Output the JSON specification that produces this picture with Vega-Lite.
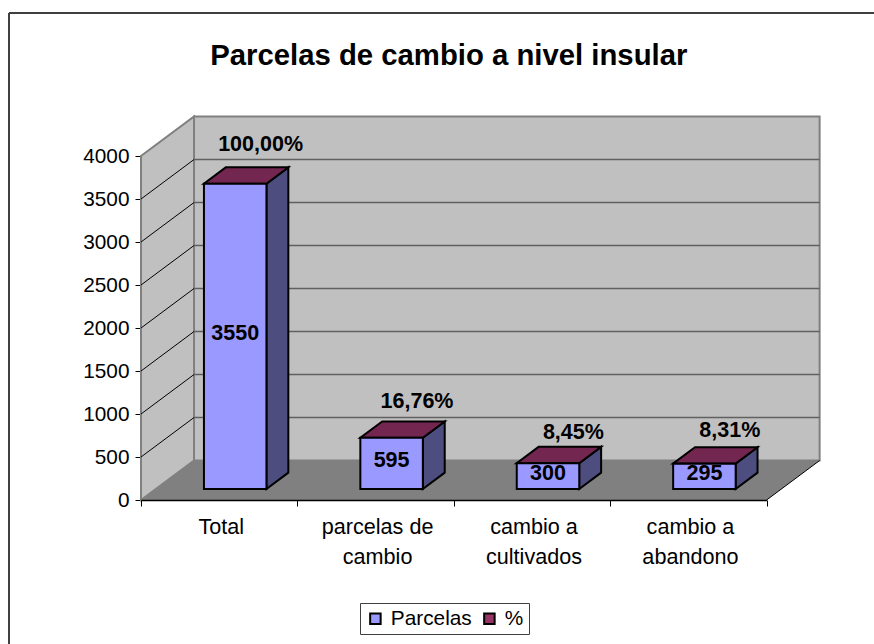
{
"$schema":"https://vega.github.io/schema/vega-lite/v6.json",
"width":625.6,"height":344,
"autosize":{"type":"none"},
"padding":{"left":141,"top":156,"right":107.4,"bottom":144},
"background":"white",
"config":{"view":{"stroke":null},"font":"Liberation Sans",
"axisY":{"grid":false,"domainColor":"black","domainWidth":1.5,"tickColor":"black","tickSize":6,"labelFont":"Liberation Sans","labelFontSize":20.8,"labelColor":"black","labelPadding":6,"zindex":1,"format":"d"}},
"title":{"text":"Parcelas de cambio a nivel insular","font":"Liberation Sans","fontSize":29.3,"fontWeight":"bold","color":"black","anchor":"middle","dx":-5,"offset":-59},
"datasets":{
"barras":[
{"categoria":"Total","orden":0,"Parcelas":3550,"pct":100.00},
{"categoria":"parcelas de cambio","orden":1,"Parcelas":595,"pct":16.76},
{"categoria":"cambio a cultivados","orden":2,"Parcelas":300,"pct":8.45},
{"categoria":"cambio a abandono","orden":3,"Parcelas":295,"pct":8.31}],
"prof":[{"depth":0},{"depth":1}],
"uno":[{"k":1}],
"marcas":[{"v":500},{"v":1000},{"v":1500},{"v":2000},{"v":2500},{"v":3000},{"v":3500}]
},
"resolve":{"scale":{"x":"independent"},"axis":{"x":"independent"}},
"layer":[
{"layer":[
{"data":{"name":"uno"},"mark":{"type":"rect","fill":"#C0C0C0","stroke":"#808080","strokeWidth":2},
"encoding":{"x":{"datum":0.339,"type":"quantitative","scale":{"domain":[0,4],"nice":false,"zero":false},"axis":null},"x2":{"datum":4.339},
"y":{"datum":459,"type":"quantitative","scale":{"domain":[0,4000],"nice":false},"axis":{"title":null,"format":"d"}},"y2":{"datum":4459}}},
{"data":{"name":"prof"},"transform":[{"calculate":"datum.depth*0.339","as":"x"},{"calculate":"datum.depth*459","as":"y"},{"calculate":"4000+datum.depth*459","as":"y2"}],
"mark":{"type":"area","fill":"#C0C0C0","stroke":"#808080","strokeWidth":2},
"encoding":{"x":{"field":"x","type":"quantitative","scale":{"domain":[0,4],"nice":false,"zero":false},"axis":null},"y":{"field":"y","type":"quantitative","scale":{"domain":[0,4000],"nice":false},"axis":{"title":null}},"y2":{"field":"y2"}}},
{"data":{"name":"prof"},"transform":[{"calculate":"datum.depth*0.339","as":"x"},{"calculate":"4+datum.depth*0.339","as":"x2"},{"calculate":"datum.depth*459","as":"y"}],
"mark":{"type":"area","orient":"horizontal","fill":"#808080"},
"encoding":{"y":{"field":"y","type":"quantitative","scale":{"domain":[0,4000],"nice":false},"axis":{"title":null}},"x":{"field":"x","type":"quantitative","scale":{"domain":[0,4],"nice":false,"zero":false},"axis":null},"x2":{"field":"x2"}}},
{"data":{"name":"marcas"},"transform":[{"calculate":"datum.v+459","as":"vb"}],"mark":{"type":"rule","color":"#606060","strokeWidth":1.5},
"encoding":{"x":{"datum":0.339,"type":"quantitative","scale":{"domain":[0,4],"nice":false,"zero":false},"axis":null},"x2":{"datum":4.339},"y":{"field":"vb","type":"quantitative","scale":{"domain":[0,4000],"nice":false},"axis":{"title":null}}}},
{"data":{"name":"marcas"},"transform":[{"calculate":"datum.v+459","as":"vb"}],"mark":{"type":"rule","color":"black","strokeWidth":1},
"encoding":{"x":{"datum":0,"type":"quantitative","scale":{"domain":[0,4],"nice":false,"zero":false},"axis":null},"x2":{"datum":0.339},"y":{"field":"v","type":"quantitative","scale":{"domain":[0,4000],"nice":false},"axis":{"title":null}},"y2":{"field":"vb"}}},
{"data":{"name":"uno"},"mark":{"type":"rule","color":"black","strokeWidth":1},
"encoding":{"x":{"datum":4,"type":"quantitative","scale":{"domain":[0,4],"nice":false,"zero":false},"axis":null},"x2":{"datum":4.339},"y":{"datum":0,"type":"quantitative","scale":{"domain":[0,4000],"nice":false},"axis":{"title":null}},"y2":{"datum":459}}},
{"data":{"name":"uno"},"mark":{"type":"rule","color":"#404040","strokeWidth":2},
"encoding":{"x":{"datum":-0.844,"type":"quantitative","scale":{"domain":[0,4],"nice":false,"zero":false},"axis":null},"y":{"datum":-1674,"type":"quantitative","scale":{"domain":[0,4000],"nice":false},"axis":{"title":null}},"y2":{"datum":5663}}},
{"data":{"name":"uno"},"mark":{"type":"rule","color":"#404040","strokeWidth":2},
"encoding":{"x":{"datum":-0.844,"type":"quantitative","scale":{"domain":[0,4],"nice":false,"zero":false},"axis":null},"x2":{"datum":4.687},"y":{"datum":5663,"type":"quantitative","scale":{"domain":[0,4000],"nice":false},"axis":{"title":null}}}},
{"data":{"name":"barras"},"transform":[{"calculate":"[0,1]","as":"depth"},{"flatten":["depth"]},{"calculate":"datum.orden+0.802+datum.depth*0.14","as":"x"},{"calculate":"128+datum.depth*190","as":"y"},{"calculate":"datum.Parcelas+128+datum.depth*190","as":"y2"}],
"mark":{"type":"area","fill":"#4D4D80","stroke":"black","strokeWidth":2},
"encoding":{"detail":{"field":"categoria"},"x":{"field":"x","type":"quantitative","scale":{"domain":[0,4],"nice":false,"zero":false},"axis":null},"y":{"field":"y","type":"quantitative","scale":{"domain":[0,4000],"nice":false},"axis":{"title":null}},"y2":{"field":"y2"}}},
{"data":{"name":"barras"},"transform":[{"calculate":"[0,1]","as":"depth"},{"flatten":["depth"]},{"calculate":"datum.orden+0.402+datum.depth*0.14","as":"x"},{"calculate":"datum.x+0.4","as":"x2"},{"calculate":"datum.Parcelas+128+datum.depth*190","as":"y"}],
"mark":{"type":"area","orient":"horizontal"},
"encoding":{"detail":{"field":"categoria"},"color":{"datum":"%","scale":{"domain":["Parcelas","%"],"range":["#9999FF","#993366"]}},"y":{"field":"y","type":"quantitative","scale":{"domain":[0,4000],"nice":false},"axis":{"title":null}},"x":{"field":"x","type":"quantitative","scale":{"domain":[0,4],"nice":false,"zero":false},"axis":null},"x2":{"field":"x2"}}},
{"data":{"name":"barras"},"transform":[{"calculate":"[0,1]","as":"depth"},{"flatten":["depth"]},{"calculate":"datum.orden+0.402+datum.depth*0.14","as":"x"},{"calculate":"datum.x+0.4","as":"x2"},{"calculate":"datum.Parcelas+128+datum.depth*190","as":"y"}],
"mark":{"type":"area","orient":"horizontal","fill":"#732650","stroke":"black","strokeWidth":2},
"encoding":{"detail":{"field":"categoria"},"y":{"field":"y","type":"quantitative","scale":{"domain":[0,4000],"nice":false},"axis":{"title":null}},"x":{"field":"x","type":"quantitative","scale":{"domain":[0,4],"nice":false,"zero":false},"axis":null},"x2":{"field":"x2"}}}
]},
{"data":{"name":"barras"},
"transform":[{"calculate":"datum.Parcelas/2","as":"medio"},{"calculate":"replace(format(datum.pct,'.2f'),'.',',')+'%'","as":"etiqueta"}],
"encoding":{"x":{"field":"categoria","type":"nominal","sort":null,"scale":{"paddingInner":0,"paddingOuter":0},
"axis":{"title":null,"labelAngle":0,"tickBand":"extent","domainColor":"black","domainWidth":1.5,"tickColor":"black","tickSize":6,"labelFont":"Liberation Sans","labelFontSize":21.6,"labelColor":"black","labelPadding":10,"labelOffset":1.5,"labelLineHeight":30,"labelLimit":0,"zindex":1,
"labelExpr":"datum.label=='parcelas de cambio'?['parcelas de','cambio']:datum.label=='cambio a cultivados'?['cambio a','cultivados']:datum.label=='cambio a abandono'?['cambio a','abandono']:datum.label"}}},
"layer":[
{"mark":{"type":"bar","width":62.5,"xOffset":16,"yOffset":-11,"stroke":"black","strokeWidth":2},
"encoding":{"y":{"field":"Parcelas","type":"quantitative","scale":{"domain":[0,4000],"nice":false},
"axis":{"title":null,"values":[0,500,1000,1500,2000,2500,3000,3500,4000]}},
"color":{"datum":"Parcelas","scale":{"domain":["Parcelas","%"],"range":["#9999FF","#993366"]},
"legend":{"title":null,"orient":"none","legendX":219,"legendY":447,"direction":"horizontal","columns":2,"symbolType":"square","symbolSize":110,"symbolStrokeColor":"black","symbolStrokeWidth":2,"labelFont":"Liberation Sans","labelFontSize":20.8,"labelColor":"black","strokeColor":"#404040","fillColor":"white","padding":5,"columnPadding":7,"labelOffset":5}}}},
{"mark":{"type":"text","font":"Liberation Sans","fontSize":21.5,"fontWeight":"bold","color":"black","baseline":"middle","xOffset":16,"yOffset":-13},
"encoding":{"y":{"field":"medio","type":"quantitative","scale":{"domain":[0,4000],"nice":false},"axis":{"title":null}},"text":{"field":"Parcelas","type":"quantitative"}}},
{"transform":[{"filter":"datum.orden==0"}],"mark":{"type":"text","font":"Liberation Sans","fontSize":21.5,"fontWeight":"bold","color":"black","baseline":"middle","xOffset":41.4,"yOffset":-49.7},
"encoding":{"y":{"field":"Parcelas","type":"quantitative","scale":{"domain":[0,4000],"nice":false},"axis":{"title":null}},"text":{"field":"etiqueta"}}},
{"transform":[{"filter":"datum.orden==1"}],"mark":{"type":"text","font":"Liberation Sans","fontSize":21.5,"fontWeight":"bold","color":"black","baseline":"middle","xOffset":41.4,"yOffset":-47},
"encoding":{"y":{"field":"Parcelas","type":"quantitative","scale":{"domain":[0,4000],"nice":false},"axis":{"title":null}},"text":{"field":"etiqueta"}}},
{"transform":[{"filter":"datum.orden==2"}],"mark":{"type":"text","font":"Liberation Sans","fontSize":21.5,"fontWeight":"bold","color":"black","baseline":"middle","xOffset":41.4,"yOffset":-41},
"encoding":{"y":{"field":"Parcelas","type":"quantitative","scale":{"domain":[0,4000],"nice":false},"axis":{"title":null}},"text":{"field":"etiqueta"}}},
{"transform":[{"filter":"datum.orden==3"}],"mark":{"type":"text","font":"Liberation Sans","fontSize":21.5,"fontWeight":"bold","color":"black","baseline":"middle","xOffset":41.4,"yOffset":-44},
"encoding":{"y":{"field":"Parcelas","type":"quantitative","scale":{"domain":[0,4000],"nice":false},"axis":{"title":null}},"text":{"field":"etiqueta"}}}
]}
]}
